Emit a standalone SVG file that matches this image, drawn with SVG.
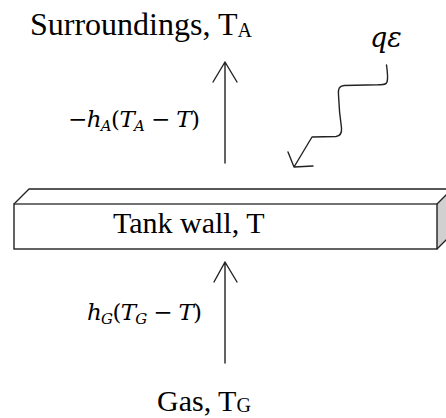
<svg xmlns="http://www.w3.org/2000/svg" width="446" height="418" viewBox="0 0 446 418">
<style>
.lbl{font-family:"Liberation Serif","Times New Roman",serif;fill:#000}
.math{font-family:"DejaVu Serif","Liberation Serif",serif;fill:#000}
.it{font-style:italic}
.edge{stroke:#222;stroke-width:1.4;fill:none;stroke-linejoin:round}
.conn{stroke:#222;stroke-width:1.4;fill:none;stroke-linecap:round;stroke-linejoin:round}
</style>
<rect width="446" height="418" fill="#fff"/>
<g id="surroundings">
<text class="lbl" x="30" y="35" font-size="32">Surroundings, T<tspan font-size="20" dy="2">A</tspan></text>
</g>
<g id="radiation-label">
<text class="math it" x="370" y="47" font-size="27">qε</text>
</g>
<g id="tank-wall">
<polygon points="14,204 29,189 461,189 446,204" fill="#fff" stroke="none"/>
<polygon points="437,204 452,189 452,234 437,249" fill="#d0d0d0" stroke="none"/>
<rect x="14" y="204" width="423" height="45" fill="#fff" stroke="#222" stroke-width="1.4"/>
<path class="edge" d="M14,204 L29,189 L452,189 M437,204 L452,189 M437,249 L452,234"/>
<line x1="15" y1="204" x2="436" y2="204" stroke="#777" stroke-width="1.4"/>
<text class="lbl" x="113" y="233" font-size="30">Tank wall, T</text>
</g>
<g id="gas">
<text class="lbl" x="157" y="411" font-size="30">Gas, T<tspan font-size="20" dy="1">G</tspan></text>
</g>
<g id="connectors">
<path class="conn" d="M225,163 L225,62 M213,82 L225,62 L237,82"/>
<path class="conn" d="M225,363 L225,262 M214,282 L225,262 L237,282"/>
<path class="conn" d="M386.5,65 C387.5,72 388,79 387,82 C386,85 383,84.5 378,84.8 L344,85.5 C339,86 338,89 338.5,95 C339,108 340,118 341.5,128 C342,134 340,136 336,136.5 L312,137 L294,167 M288,152 L294,167 L313,166"/>
<text class="math" x="68" y="127" font-size="23" textLength="132" lengthAdjust="spacing"><tspan>−</tspan><tspan class="it">h</tspan><tspan class="it" font-size="15" dy="4">A</tspan><tspan dy="-4">(</tspan><tspan class="it">T</tspan><tspan class="it" font-size="15" dy="4">A</tspan><tspan dy="-4"> − </tspan><tspan class="it">T</tspan><tspan>)</tspan></text>
<text class="math" x="87" y="320" font-size="23" textLength="115" lengthAdjust="spacing"><tspan class="it">h</tspan><tspan class="it" font-size="15" dy="4">G</tspan><tspan dy="-4">(</tspan><tspan class="it">T</tspan><tspan class="it" font-size="15" dy="4">G</tspan><tspan dy="-4"> − </tspan><tspan class="it">T</tspan><tspan>)</tspan></text>
</g>
</svg>
